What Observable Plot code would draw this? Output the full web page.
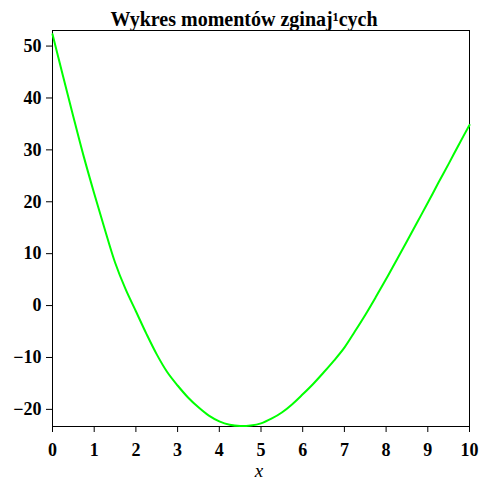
<!DOCTYPE html>
<html><head><meta charset="utf-8">
<script src="https://cdn.jsdelivr.net/npm/d3@7"></script>
<script src="https://cdn.jsdelivr.net/npm/@observablehq/plot@0.6"></script>
<style>html,body{margin:0;padding:0;background:#fff} svg{display:block}</style>
</head><body><div id="chart"></div>
<script>
const title = "Wykres momentów zginaj¹cych";
const xLabel = "x";
const xs = [0, 0.25, 0.5, 0.75, 1, 1.25, 1.5, 1.75, 2, 2.25, 2.5, 2.75, 3, 3.25, 3.5, 3.75, 4, 4.25, 4.5, 4.75,
            5, 5.25, 5.5, 5.75, 6, 6.25, 6.5, 6.75, 7, 7.25, 7.5, 7.75, 8, 8.25, 8.5, 8.75, 9, 9.25, 9.5, 9.75, 10];
const moments = [52.3, 44.3, 36.4, 28.7, 21.6, 14.8, 8.3, 3.2, -1.1, -5.4, -9.4, -12.8, -15.4, -17.7, -19.6, -21.2, -22.3, -22.95, -23.2, -23.1,
                 -22.7, -21.8, -20.6, -19.0, -17.1, -15.1, -12.9, -10.6, -8.1, -5.0, -1.8, 1.6, 5.1, 8.75, 12.4, 16.1, 19.8, 23.6, 27.3, 31.1, 34.8];
const xTicks = [0, 1, 2, 3, 4, 5, 6, 7, 8, 9, 10];
const yTicks = [-20, -10, 0, 10, 20, 30, 40, 50];

const data = xs.map((x, i) => ({x, m: moments[i]}));

const chart = Plot.plot({
  width: 486,
  height: 486,
  marginLeft: 52,
  marginRight: 17,
  marginTop: 30,
  marginBottom: 60,
  style: {fontFamily: "'Liberation Serif', 'Times New Roman', serif", fontSize: "18px", fontWeight: "bold", color: "#000", background: "#fff"},
  x: {domain: [0, 10], ticks: xTicks, label: null, tickSize: 6, tickPadding: 11},
  y: {domain: [-23.3, 53], ticks: yTicks, label: null, tickSize: 6, tickPadding: 5},
  marks: [
    Plot.frame({stroke: "#000", strokeWidth: 1}),
    Plot.line(data, {x: "x", y: "m", stroke: "#00ff00", strokeWidth: 2, curve: "catmull-rom"}),
    Plot.text([title], {frameAnchor: "top", dy: -11, dx: -17, text: d => d, fontSize: 20, fontWeight: "bold", lineAnchor: "middle"}),
    Plot.text([xLabel], {frameAnchor: "bottom", dy: 44, dx: -2, text: d => d, fontSize: 19, fontWeight: "normal", fontStyle: "italic", lineAnchor: "middle"})
  ]
});
document.getElementById("chart").appendChild(chart);
</script>
</body></html>
